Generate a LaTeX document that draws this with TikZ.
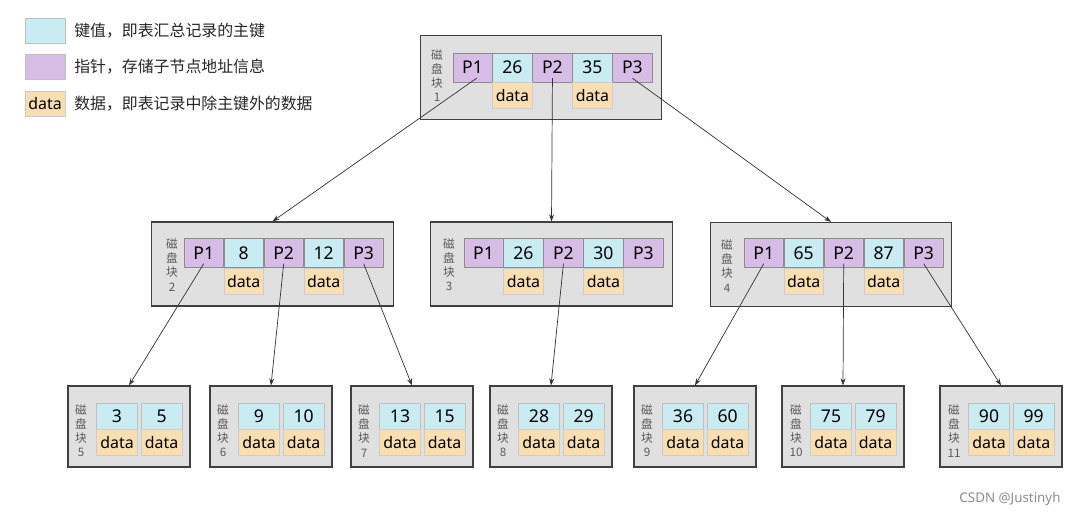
\documentclass[tikz,border=0pt]{standalone}
\usepackage{fontspec}
\setmainfont{Noto Sans}
\newfontfamily\cjk{Noto Sans CJK SC}
\usetikzlibrary{positioning,arrows.meta}

\definecolor{keyblue}{HTML}{C9EBF2}
\definecolor{ptrpurple}{HTML}{D7BDE6}
\definecolor{datayellow}{HTML}{F8DEB0}
\definecolor{diskgray}{HTML}{E0E0E0}

\tikzset{
  disk/.style={draw=black!75, fill=diskgray, line width=0.8pt, inner sep=0,
    minimum width=6.03cm, minimum height=2.1cm},
  leaf/.style={disk, minimum width=3.05cm, minimum height=2.025cm},
  cell/.style={draw=black!45, line width=0.4pt, minimum width=0.985cm,
    minimum height=0.73cm, inner sep=0, font=\fontsize{12.5}{14}\selectfont},
  ptr/.style={cell, fill=ptrpurple},
  key/.style={cell, fill=keyblue},
  dat/.style={cell, fill=datayellow, draw=black!20, minimum height=0.65cm,
    font=\fontsize{11.3}{13}\selectfont},
  leafkey/.style={key, draw=black!25, minimum width=1.025cm, minimum height=0.65cm},
  leafdat/.style={dat, minimum width=1.025cm},
  disklabel/.style={align=center, text=black!65, inner sep=0,
    font=\cjk\fontsize{8.3}{10}\selectfont},
  link/.style={-{Stealth[length=5pt,width=3.5pt]}, black!80, line width=0.5pt},
  legtext/.style={anchor=west, inner sep=0, text=black!85,
    font=\cjk\fontsize{11.3}{13}\selectfont},
}

\begin{document}
\begin{tikzpicture}[x=0.025cm, y=-0.025cm]
\useasboundingbox (0,0) rectangle (1076,517);

% Legend
\node[key, draw=black!25, minimum width=1cm, minimum height=0.625cm] (lgkey) at (45,30.5) {};
\node[legtext] (lgkeytxt) at (74,30.5) {键值，即表汇总记录的主键};
\node[ptr, draw=black!25, minimum width=1cm, minimum height=0.625cm] (lgptr) at (45,66.5) {};
\node[legtext] (lgptrtxt) at (74,66.5) {指针，存储子节点地址信息};
\node[dat, minimum width=1cm, minimum height=0.625cm] (lgdat) at (45,103.5) {data};
\node[legtext] (lgdattxt) at (74,103.5) {数据，即表记录中除主键外的数据};

% Disk block 1
\node[disk] (blk1) at (541,77.5) {};
\node[disklabel] (lbl1) at (437,76) {磁\\盘\\块\\1};
\node[ptr] (b1p1) at (472.5,67.5) {P1};
\node[key, right=0pt of b1p1] (b1k1) {26};
\node[ptr, right=0pt of b1k1] (b1p2) {P2};
\node[key, right=0pt of b1p2] (b1k2) {35};
\node[ptr, right=0pt of b1k2] (b1p3) {P3};
\node[dat, below=0pt of b1k1] (b1d1) {data};
\node[dat, below=0pt of b1k2] (b1d2) {data};

% Disk block 2
\node[disk] (blk2) at (272.5,264) {};
\node[disklabel] (lbl2) at (172,265) {磁\\盘\\块\\2};
\node[ptr] (b2p1) at (203.75,253) {P1};
\node[key, right=0pt of b2p1] (b2k1) {8};
\node[ptr, right=0pt of b2k1] (b2p2) {P2};
\node[key, right=0pt of b2p2] (b2k2) {12};
\node[ptr, right=0pt of b2k2] (b2p3) {P3};
\node[dat, below=0pt of b2k1] (b2d1) {data};
\node[dat, below=0pt of b2k2] (b2d2) {data};

% Disk block 3
\node[disk] (blk3) at (551.5,264) {};
\node[disklabel] (lbl3) at (449,265) {磁\\盘\\块\\3};
\node[ptr] (b3p1) at (483.5,253) {P1};
\node[key, right=0pt of b3p1] (b3k1) {26};
\node[ptr, right=0pt of b3k1] (b3p2) {P2};
\node[key, right=0pt of b3p2] (b3k2) {30};
\node[ptr, right=0pt of b3k2] (b3p3) {P3};
\node[dat, below=0pt of b3k1] (b3d1) {data};
\node[dat, below=0pt of b3k2] (b3d2) {data};

% Disk block 4
\node[disk] (blk4) at (831,264.5) {};
\node[disklabel] (lbl4) at (727,266) {磁\\盘\\块\\4};
\node[ptr] (b4p1) at (763.75,253) {P1};
\node[key, right=0pt of b4p1] (b4k1) {65};
\node[ptr, right=0pt of b4k1] (b4p2) {P2};
\node[key, right=0pt of b4p2] (b4k2) {87};
\node[ptr, right=0pt of b4k2] (b4p3) {P3};
\node[dat, below=0pt of b4k1] (b4d1) {data};
\node[dat, below=0pt of b4k2] (b4d2) {data};

% Leaf blocks 5 to 11
\node[leaf] (blk5) at (129,426.5) {};
\node[disklabel] (lbl5) at (81,431) {磁\\盘\\块\\5};
\node[leafkey] (b5k1) at (117,416) {3};
\node[leafkey, right=0.075cm of b5k1] (b5k2) {5};
\node[leafdat, below=0pt of b5k1] (b5d1) {data};
\node[leafdat, below=0pt of b5k2] (b5d2) {data};

\node[leaf] (blk6) at (271,426.5) {};
\node[disklabel] (lbl6) at (223,431) {磁\\盘\\块\\6};
\node[leafkey] (b6k1) at (259,416) {9};
\node[leafkey, right=0.075cm of b6k1] (b6k2) {10};
\node[leafdat, below=0pt of b6k1] (b6d1) {data};
\node[leafdat, below=0pt of b6k2] (b6d2) {data};

\node[leaf] (blk7) at (412,426.5) {};
\node[disklabel] (lbl7) at (364,431) {磁\\盘\\块\\7};
\node[leafkey] (b7k1) at (400,416) {13};
\node[leafkey, right=0.075cm of b7k1] (b7k2) {15};
\node[leafdat, below=0pt of b7k1] (b7d1) {data};
\node[leafdat, below=0pt of b7k2] (b7d2) {data};

\node[leaf] (blk8) at (551,426.5) {};
\node[disklabel] (lbl8) at (503,431) {磁\\盘\\块\\8};
\node[leafkey] (b8k1) at (539,416) {28};
\node[leafkey, right=0.075cm of b8k1] (b8k2) {29};
\node[leafdat, below=0pt of b8k1] (b8d1) {data};
\node[leafdat, below=0pt of b8k2] (b8d2) {data};

\node[leaf] (blk9) at (695,426.5) {};
\node[disklabel] (lbl9) at (647,431) {磁\\盘\\块\\9};
\node[leafkey] (b9k1) at (683,416) {36};
\node[leafkey, right=0.075cm of b9k1] (b9k2) {60};
\node[leafdat, below=0pt of b9k1] (b9d1) {data};
\node[leafdat, below=0pt of b9k2] (b9d2) {data};

\node[leaf] (blk10) at (843,426.5) {};
\node[disklabel] (lbl10) at (796,431) {磁\\盘\\块\\10};
\node[leafkey] (b10k1) at (831,416) {75};
\node[leafkey, right=0.075cm of b10k1] (b10k2) {79};
\node[leafdat, below=0pt of b10k1] (b10d1) {data};
\node[leafdat, below=0pt of b10k2] (b10d2) {data};

\node[leaf] (blk11) at (1001,426.5) {};
\node[disklabel] (lbl11) at (954,431) {磁\\盘\\块\\11};
\node[leafkey] (b11k1) at (989,416) {90};
\node[leafkey, right=0.075cm of b11k1] (b11k2) {99};
\node[leafdat, below=0pt of b11k1] (b11d1) {data};
\node[leafdat, below=0pt of b11k2] (b11d2) {data};

% Links
\draw[link] ([xshift=3pt,yshift=3pt]b1p1.south) -- (blk2.north);
\draw[link] ([yshift=3pt]b1p2.south) -- (blk3.north);
\draw[link] ([yshift=3pt]b1p3.south) -- (blk4.north);
\draw[link] ([yshift=3pt]b2p1.south) -- (blk5.north);
\draw[link] ([yshift=3pt]b2p2.south) -- (blk6.north);
\draw[link] ([yshift=3pt]b2p3.south) -- (blk7.north);
\draw[link] ([yshift=3pt]b3p2.south) -- (blk8.north);
\draw[link] ([yshift=3pt]b4p1.south) -- (blk9.north);
\draw[link] ([yshift=3pt]b4p2.south) -- (blk10.north);
\draw[link] ([yshift=3pt]b4p3.south) -- (blk11.north);

\node[text=black!45, font=\fontsize{9.5}{11}\selectfont] (mark) at (1010,499) {CSDN @Justinyh};

\end{tikzpicture}
\end{document}
